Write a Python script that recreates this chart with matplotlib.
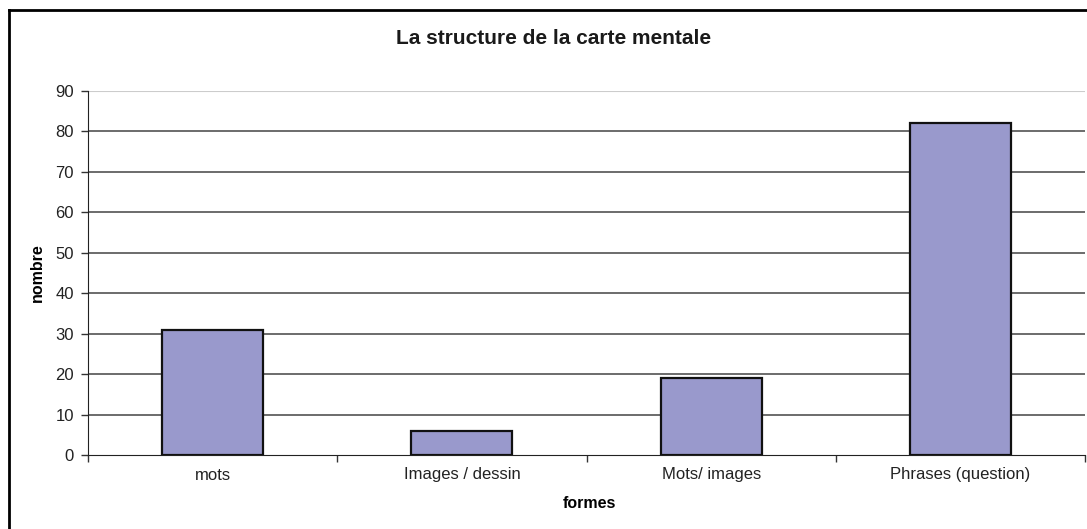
import numpy as np
import matplotlib.pyplot as plt
from matplotlib.lines import Line2D

plt.rcParams['font.family'] = ['Liberation Sans', 'DejaVu Sans']

categories = ['mots', 'Images / dessin', 'Mots/ images', 'Phrases (question)']
values = [31, 6, 19, 82]
yticks = list(range(0, 100, 10))

fig = plt.figure(figsize=(10.87, 5.29), dpi=100)
ax = fig.add_axes([88/1087, 1-455/529, (1085-88)/1087, (455-91)/529])

x = np.arange(len(categories))
ax.bar(x, values, width=0.405, color='#9999CC', edgecolor='#111111', linewidth=1.6, zorder=3)

ax.set_xlim(-0.5, len(categories)-0.5)
ax.set_ylim(0, 90)
ax.set_yticks(yticks)
ax.set_xticks(x)
ax.set_xticklabels(categories, fontsize=12, color='#222222')
ax.tick_params(axis='x', length=0, pad=9)
ax.set_xticks(np.arange(-0.5, len(categories)), minor=True)
ax.tick_params(axis='x', which='minor', length=5, width=1, color='#333333')
ax.tick_params(axis='y', labelsize=12, labelcolor='#222222', length=5, width=1, color='#333333', pad=5)

for v in yticks[1:-1]:
    ax.axhline(v, color='#444444', linewidth=1.1, zorder=1)
ax.axhline(90, color='#cccccc', linewidth=1.5, zorder=1)

for s in ['top', 'right']:
    ax.spines[s].set_visible(False)
ax.spines['left'].set_color('#222222')
ax.spines['bottom'].set_color('#222222')

ax.set_ylabel('nombre', fontsize=11.5, fontweight='bold', va='center')
ax.yaxis.set_label_coords((37-88)/997, 0.5)
ax.set_xlabel('formes', fontsize=11.5, fontweight='bold', va='center')
ax.xaxis.set_label_coords((589-88)/997, (455-504)/364)
fig.text(554/1087, 1-38/529, 'La structure de la carte mentale', fontsize=15,
         fontweight='bold', ha='center', va='center', color='#1a1a1a')

# outer border (top and left only visible in the reference crop)
fig.add_artist(Line2D([9/1087, 9/1087], [0, 1-10/529], transform=fig.transFigure,
                      color='black', linewidth=2, solid_capstyle='projecting'))
fig.add_artist(Line2D([9/1087, 1], [1-10/529, 1-10/529], transform=fig.transFigure,
                      color='black', linewidth=2, solid_capstyle='projecting'))

fig.savefig('out.png', dpi=100)
